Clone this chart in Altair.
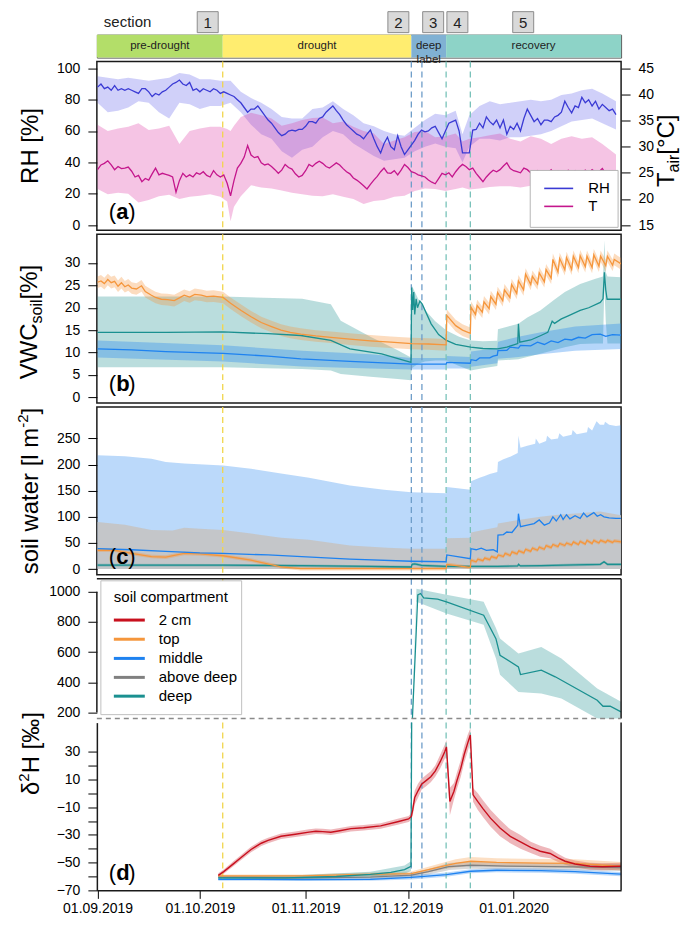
import altair as alt
import pandas as pd

FONT = "Liberation Sans"
BASE = pd.Timestamp("2019-09-01")
W = 525
H_BAR, H_A, H_B, H_C, H_DU, H_DL = 23, 169, 169, 168, 140, 168

# ---------------- data (days since 2019-09-01) ----------------
SECTION_NAMES = ["pre-drought", "drought", "deep\nlabel", "recovery"]
SECTION_START = [-0.2, 36.7, 92.0, 102.2]
SECTION_END = [36.7, 92.0, 102.2, 153.5]
SECTION_COLORS = ["#B3DE69", "#FFED6F", "#80B1D3", "#8DD3C7"]
BOX_LABELS = ["1", "2", "3", "4", "5"]
BOX_DAYS = [32.3, 88.2, 98.4, 105.5, 124.8]
EVENT_DAYS = [36.7, 92.0, 95.1, 102.2, 109.3]
EVENT_COLORS = ["#F2D64B", "#6E9DC9", "#6E9DC9", "#79C2BA", "#79C2BA"]
MONTH_TICKS = [0, 30, 61, 91, 122]

RH_DAYS = list(range(153))
RH = [88, 90, 87, 88, 86, 89, 86, 87, 86, 87,
      86, 85, 84, 87, 87, 85, 82, 84, 83, 85,
      86, 88, 90, 91, 92.5, 90, 89, 91, 86, 87,
      85, 87, 86, 85, 87, 86, 84, 85, 84, 83,
      82, 80, 78, 75, 72, 74, 74, 76, 73, 70,
      67, 65, 62, 59, 57, 58, 60, 60.5, 60, 61,
      61, 63, 66, 66, 65, 68, 69, 72, 74, 76,
      73, 70.5, 67, 64, 62, 60, 58, 57, 55, 58,
      60.6, 55, 50, 46, 52, 56, 50, 48, 57, 50,
      45, 48, 51, 54, 58, 60.6, 59.5, 60, 62, 63,
      59, 55, 60, 65, 66, 67, 60, 46, 46, 46,
      60.6, 61, 65, 62, 69, 66, 64, 67, 62, 67,
      58, 63, 61, 65, 60, 68, 74, 70, 66, 68,
      64, 67, 67, 66, 69, 70, 72, 79, 75, 71.6,
      76, 75, 81.5, 78, 80, 76, 79, 74, 77, 75,
      73, 74, 70.5]
T_AIR = [25.6, 26.5, 26.8, 27.3, 26.5, 25.6, 26.2, 25.8, 25.9, 26.1,
         25.3, 24.2, 24.5, 23.3, 23.9, 23.6, 24.8, 25.9, 24.6, 24.9,
         24.7, 24.5, 24.2, 21.3, 23.5, 24.9, 24.2, 24.6, 24.2, 25.0,
         24.7, 25.2, 24.5, 24.2, 25.4, 24.6, 24.2, 24.6, 23.0, 20.6,
         23.5, 25.9, 26.8, 28.0, 30.2, 28.4, 27.9, 28.1, 26.9, 26.5,
         26.7, 26.2, 25.6, 24.9, 25.5, 26.6, 26.0, 25.7, 24.8, 24.2,
         24.5, 25.4, 26.6, 26.2, 26.8, 27.2, 26.8, 26.2, 25.9, 26.4,
         26.9, 26.5, 25.8, 25.2, 24.8, 24.0, 23.6, 23.1, 22.5, 21.9,
         22.8, 23.6, 24.3, 25.2, 25.9, 25.0, 24.9, 25.4, 24.6, 25.5,
         26.6, 26.0, 25.2, 25.0, 24.6, 24.4, 24.2, 23.6, 23.2, 22.9,
         23.9, 24.9, 24.6, 25.0, 24.2, 25.2, 26.0, 26.6, 26.2, 25.6,
         25.9, 24.9, 24.1, 23.3, 24.2, 24.9, 25.5, 25.2, 25.6, 26.3,
         26.9, 25.8, 25.4, 25.2, 25.0, 25.9, 25.6, 25.0, 24.9, 25.4,
         24.7, 25.2, 24.9, 25.6, 24.8, 25.3, 24.6, 24.6, 25.5, 24.8,
         25.4, 24.6, 25.0, 25.5, 24.9, 25.6, 25.1, 25.2, 25.8, 24.8,
         25.3, 24.9, 25.2]
# (day, low, high)
RH_BAND = [(0, 78, 95), (3, 72, 94), (6, 73, 93), (9, 75, 94), (12, 79, 93), (15, 78, 92),
           (18, 72, 93), (21, 68, 94), (24, 78, 97), (27, 77, 96), (30, 74, 93), (33, 76, 93),
           (36, 76, 92), (39, 78, 92), (42, 72, 85), (45, 64, 81), (48, 58, 78), (51, 55, 74),
           (54, 47, 69), (57, 43, 68), (60, 48, 68), (63, 50, 74), (66, 56, 75), (69, 60, 79),
           (72, 58, 74), (75, 52, 70), (78, 48, 65), (81, 44, 63), (84, 41, 60), (87, 42, 58),
           (90, 43, 57), (93, 47, 62), (96, 50, 67), (99, 52, 71), (102, 50, 70), (105, 49, 73),
           (107, 40, 58), (109, 50, 70), (112, 55, 76), (115, 55, 79), (118, 54, 77), (121, 56, 78),
           (124, 56, 79), (127, 57, 80), (130, 58, 79), (133, 60, 80), (136, 63, 83), (139, 66, 84),
           (142, 67, 86), (145, 68, 87), (148, 65, 84), (152, 61, 79)]
T_BAND = [(0, 21.9, 34.2), (3, 20.9, 33.0), (6, 21.2, 33.5), (9, 21.0, 33.8), (12, 19.3, 34.5),
          (15, 19.8, 33.2), (18, 20.5, 33.5), (21, 20.8, 34.0), (24, 20.0, 30.5), (27, 20.4, 33.0),
          (30, 20.6, 33.5), (33, 20.9, 33.8), (36, 20.4, 33.8), (38, 19.5, 33.4), (39, 15.7, 33.0),
          (40, 18.5, 34.0), (42, 20.5, 35.7), (45, 22.6, 36.5), (48, 22.2, 36.0), (51, 22.0, 35.4),
          (54, 21.6, 34.0), (57, 21.2, 34.5), (60, 20.9, 35.1), (63, 20.6, 35.5), (66, 20.5, 35.6),
          (69, 20.9, 34.5), (72, 20.4, 34.8), (75, 20.0, 33.8), (78, 19.0, 33.0), (81, 19.6, 32.5),
          (84, 19.8, 30.5), (87, 20.4, 31.2), (90, 20.6, 31.8), (93, 21.5, 32.8), (96, 22.0, 33.0),
          (99, 21.9, 31.8), (102, 21.5, 32.0), (105, 21.9, 32.5), (107, 22.2, 31.0), (109, 21.8, 31.5),
          (112, 22.0, 31.8), (115, 22.3, 32.2), (118, 22.4, 32.5), (121, 22.4, 31.5), (124, 22.2, 31.0),
          (127, 22.5, 32.0), (130, 22.4, 31.5), (133, 22.3, 30.5), (136, 22.4, 31.5), (139, 22.5, 32.0),
          (142, 22.5, 31.5), (145, 22.6, 31.8), (148, 22.6, 30.5), (152, 22.5, 28.5)]

# VWC soil [%] (day, value)
VWC_TOP = [(0, 25.7), (1, 26.0), (2, 25.4), (3, 26.3), (4, 25.6), (5, 25.9), (6, 24.8), (7, 25.6),
           (8, 24.7), (9, 25.1), (10, 24.4), (11.4, 24.2), (12.9, 24.9), (14, 23.6), (15.8, 22.8),
           (17, 22.3), (18.7, 21.9), (20.5, 21.8), (22.5, 21.6), (24, 22.2), (25.4, 22.8), (27, 22.4),
           (28.5, 23.0), (30.4, 22.8), (32, 22.5), (34, 22.6), (36.8, 22.3), (39, 21.0), (42.1, 19.4),
           (45, 18.0), (48, 16.7), (51, 15.8), (53.8, 15.0), (56.5, 14.5), (59.6, 14.1), (64, 13.7),
           (68.4, 13.4), (74, 13.0), (80, 12.6), (86, 12.3), (92.1, 12.0), (97, 11.9), (102.2, 11.7),
           (102.4, 18.3), (105, 16.0), (107, 15.0), (109.3, 14.3), (109.5, 20.1), (110.8, 18.5),
           (111.3, 20.5), (112.8, 19.0), (113.3, 21.3), (114.8, 19.8), (115.3, 22.5), (116.8, 20.8),
           (117.3, 23.4), (118.8, 21.6), (119.3, 24.0), (120.9, 22.3), (121.4, 25.2), (122.9, 23.2),
           (123.4, 26.0), (124.9, 24.0), (125.5, 27.5), (127.0, 25.2), (127.5, 27.0), (129.0, 25.3),
           (129.5, 27.8), (131.0, 25.8), (131.5, 28.5), (133.0, 26.6), (133.5, 30.8), (135, 28.0),
           (135.5, 31.0), (137, 28.5), (137.5, 31.2), (139, 28.6), (139.5, 31.5), (141, 29.0),
           (141.5, 31.6), (143, 29.2), (143.5, 31.5), (145, 29.0), (145.5, 31.8), (147, 29.3),
           (147.5, 31.5), (149, 29.4), (149.5, 31.5), (151, 29.5), (151.5, 30.8), (153.5, 29.8)]
VWC_TOP_SPREAD = 1.3
VWC_MID = [(0, 10.8), (10, 10.6), (20, 10.2), (36.8, 9.8), (50, 9.2), (59.6, 8.6), (74, 8.0), (92, 7.4),
           (102.2, 7.4), (102.4, 7.8), (109.3, 7.6), (109.5, 8.4), (111, 8.2), (112, 8.8), (115, 8.8),
           (116, 9.2), (117.2, 9.4), (117.4, 10.4), (120, 10.5), (121, 11.2), (123.4, 11.0), (124, 11.6),
           (127, 11.5), (129, 12.3), (131, 11.8), (133, 12.6), (135, 12.2), (137, 13.0), (139, 12.8),
           (141, 13.4), (143, 13.2), (145, 14.0), (147.4, 14.1), (149, 13.6), (151, 14.0), (153.5, 13.9)]
VWC_MID_BAND = [(0, 8.9, 12.7), (36.8, 8.0, 11.6), (60, 6.9, 10.4), (80, 6.4, 9.6), (92, 6.2, 8.8),
                (102.2, 6.2, 8.8), (102.4, 6.4, 9.2), (109.3, 6.4, 9.0), (109.5, 6.8, 10.2),
                (117.2, 7.6, 11.0), (117.4, 8.6, 12.4), (123.4, 9.0, 13.5), (130, 9.6, 14.5),
                (140, 10.4, 15.8), (153.5, 10.8, 16.5)]
VWC_DEEP = [(0, 14.5), (20, 14.5), (36.8, 14.6), (50, 14.2), (59.6, 13.8), (68.4, 12.7), (74, 10.8),
            (83.3, 9.7), (91.9, 7.8), (92.1, 24.5), (92.4, 19.5), (92.7, 23.5), (93.0, 18.5), (93.4, 22.0),
            (93.8, 20.0), (94.5, 21.5), (95.2, 20.8), (97.8, 16.4), (100, 14.0), (102.3, 12.7),
            (105, 11.8), (109.4, 11.2), (113, 10.9), (117.3, 10.8), (120, 11.2), (123.2, 12.0),
            (123.4, 16.4), (123.8, 12.3), (127, 12.8), (130, 13.8), (132, 14.5), (133.3, 17.0),
            (134, 16.5), (136, 17.5), (138, 18.2), (141.5, 19.4), (144, 20.0), (147.4, 21.2),
            (148.2, 22.0), (148.6, 27.9), (149.0, 24.0), (149.4, 21.9), (153.5, 21.9)]
VWC_DEEP_BAND = [(0, 6.7, 22.5), (36.8, 6.7, 22.5), (60, 6.3, 22.0), (68.4, 6.0, 20.8), (71.3, 5.2, 17.1),
                 (80, 4.6, 13.5), (88, 4.1, 10.5), (91.9, 3.8, 8.9), (92.1, 6.5, 25.0), (94, 7.5, 22.0),
                 (96, 8.0, 19.5), (99, 8.2, 17.0), (102.3, 8.2, 14.9), (106, 7.0, 13.5), (109.4, 6.0, 12.7),
                 (113, 6.5, 12.5), (117.2, 7.0, 12.6), (117.4, 8.2, 15.2), (123.4, 8.5, 16.4),
                 (126, 9.0, 17.8), (129.8, 9.7, 19.4), (133.7, 10.5, 21.7), (137, 11.2, 23.5),
                 (141.5, 11.9, 25.3), (146, 12.0, 26.5), (148.2, 12.0, 27.0), (148.6, 25.0, 35.0),
                 (149.0, 17.0, 28.0), (149.5, 12.0, 27.0), (153.5, 12.0, 26.8)]

# soil water [l m-2]
SW_MID_UPPER = [(0, 218), (8, 216), (15.8, 211), (20, 205), (25.4, 202), (36.8, 198), (45, 192),
                (53.8, 183), (62, 175), (74, 160), (84, 152), (92, 147), (102.2, 145), (102.4, 157),
                (109.3, 152), (109.5, 168), (112, 175), (113.5, 178), (115, 182), (117.2, 186),
                (117.4, 205), (119, 210), (121, 215), (123.2, 222), (123.4, 255), (124, 232),
                (126, 236), (128.3, 240), (128.5, 250), (129.5, 240), (131.5, 245), (131.8, 255),
                (133, 248), (135, 250), (135.4, 260), (136.5, 253), (139, 257), (139.3, 266),
                (140.5, 258), (143.5, 262), (143.8, 272), (145, 265), (146.3, 283), (147.3, 276),
                (148.5, 276), (148.8, 282), (150, 276), (152, 274), (153.5, 275)]
SW_ABOVE_UPPER = [(0, 90), (8, 85), (15.8, 75), (22, 74), (25.4, 79), (30, 77), (36.8, 75), (45, 68),
                  (53.8, 60), (62, 56), (74, 45), (85, 41), (92, 39), (102.2, 39), (102.4, 59),
                  (109.3, 60), (109.5, 70), (113, 75), (117.2, 80), (117.4, 87), (123.4, 94),
                  (129.8, 100), (135, 104), (141, 107), (147.4, 110), (153.5, 103)]
SW_MID = [(0, 39), (10, 37), (20, 34), (30, 31), (36.8, 30), (50, 27), (74, 19), (92, 15), (102.2, 14),
          (102.4, 27), (109.3, 20), (109.5, 39), (111, 37), (112.5, 40), (114, 36), (116, 37),
          (117.2, 33), (117.4, 65), (119, 66), (120, 71), (121.5, 70), (123.2, 84), (123.4, 106),
          (124, 81), (126, 84), (128, 87), (129.5, 94), (131, 84), (132.5, 88), (133.5, 100),
          (134.5, 92), (135.8, 104), (136.5, 95), (137.5, 104), (138.5, 96), (140, 102), (141.5, 97),
          (142.5, 107), (143.5, 100), (145.5, 108), (146.5, 101), (147.5, 104), (148.5, 100),
          (150, 98), (152, 97), (153.5, 97)]
SW_TOP = [(0, 36), (5, 36), (10, 30), (15.8, 24), (20, 23), (25.4, 30), (30, 29), (36.8, 25.5),
          (45, 17), (53.8, 4.4), (59.6, 1), (102.2, 1), (102.4, 9), (109.3, 3), (109.5, 17), (111, 14),
          (111.5, 19), (113, 16), (113.5, 21), (115, 18), (115.5, 24), (117, 21), (117.5, 27), (119, 24),
          (119.5, 30), (121, 26), (121.5, 33), (123, 29), (123.5, 35), (125, 31), (125.5, 38), (127, 34),
          (127.5, 40), (129, 36), (129.5, 42), (131, 38), (131.5, 45), (133, 41), (133.5, 47), (135, 43),
          (135.5, 49), (137, 45), (137.5, 50), (139, 46), (139.5, 52), (141, 47), (141.5, 53), (143, 48),
          (143.5, 55), (145, 49), (145.5, 55), (147, 50), (147.5, 55), (149, 51), (149.5, 55), (151, 51),
          (151.5, 54), (153.5, 52)]
SW_TOP_SPREAD = 3.5
SW_DEEP = [(0, 7.6), (36.8, 7.4), (60, 6.5), (80, 5), (92, 4), (92.2, 9), (93, 10), (95, 7), (102.2, 5),
           (110, 5), (117.2, 5), (123.2, 6), (123.4, 9), (124, 6), (130, 6.5), (140, 8), (147.4, 9),
           (148.5, 14), (149.5, 9), (153.5, 9)]
SW_DEEP_SPREAD = 2.5

# delta 2H [permil]  (day, value, spread)
D2H_2CM = [(35.4, -59.2, 1.5), (37, -56.5, 1.5), (40, -50.5, 1.8), (42, -46.5, 1.8), (45, -40.5, 2),
           (48, -36, 2), (50, -34, 2), (53.8, -31, 2), (58, -29.5, 2), (62, -28, 2), (64, -27.4, 2),
           (66, -27.6, 2), (68.4, -28.1, 2), (71, -27, 2), (74.3, -25.5, 2), (78, -24.8, 2),
           (83, -23.5, 2), (88, -20.5, 2.2), (91.2, -18.5, 2.2), (92.0, -16.7, 2.5), (92.4, -12, 4),
           (93, -3, 5), (94, 2, 5), (95, 6.5, 4), (96.5, 9.5, 4), (97.7, 12, 4), (99, 16, 4),
           (100.5, 23, 5), (101.8, 30, 5), (102.3, 33.5, 5), (103.3, -5.9, 10), (104.5, 1.5, 6),
           (105.3, 8.5, 6), (106.5, 18, 6), (107.5, 28, 6), (108.5, 36, 6), (109.3, 42, 5),
           (110.1, -1.1, 5), (111.5, -6, 6), (113, -11, 6), (115.2, -17.9, 6), (118, -25, 6),
           (121, -31, 5), (124, -35, 5), (127, -39, 4), (129.8, -41.8, 4), (132.7, -43.4, 3.5),
           (135, -46.5, 3), (137.1, -49, 2.5), (140, -51, 2.5), (144.4, -52.6, 2.5), (148, -53, 2.5),
           (153.5, -52.6, 2.5)]
D2H_TOP = [(35.4, -59.5, 1), (60, -59.5, 1), (74.3, -58.6, 1.2), (92, -57.9, 1.5), (97, -55, 2),
           (102.3, -51.9, 2.5), (105, -50.5, 3), (109.4, -49, 3), (117, -49.8, 3), (130, -50.4, 3),
           (140, -50.6, 3), (153.5, -52.6, 3)]
D2H_ABOVE = [(35.4, -60.5, 1), (60, -61, 1), (80, -60.5, 1.5), (92, -59, 1.5), (97, -56.5, 2),
             (102.3, -53.3, 2.5), (103, -52.8, 2.5), (109.4, -51.9, 2.5), (120, -52.5, 2.5),
             (140, -53, 2.5), (153.5, -53.5, 2.5)]
D2H_MID = [(35.4, -62, 1), (60, -62.3, 1), (80, -62, 1), (92, -60.6, 1.5), (102.3, -58.6, 1.5),
           (109.4, -56.2, 1.5), (117, -55.5, 1.5), (130, -55.8, 1.5), (140, -56.5, 1.5),
           (153.5, -58.3, 1.5)]
D2H_DEEP = [(35.4, -61), (55, -61), (70, -60), (80, -58.5), (86, -57), (90, -55), (91.9, -52.6),
            (93.9, 980), (94.7, 989), (95.6, 960), (99.7, 951), (102.3, 934), (113.2, 845), (116.8, 690),
            (118, 580), (123.4, 503), (124, 452), (130.1, 481), (134.2, 437), (146.5, 282), (148.2, 242),
            (150.3, 242), (153.5, 205)]
D2H_DEEP_BAND = [(35.4, -62, -60), (60, -62, -59), (80, -60.5, -56.5), (90, -58, -52), (91.9, -56, -49),
                 (93.5, 934, 1020), (102.3, 856, 980), (113.2, 781, 934), (116.8, 560, 760),
                 (118, 450, 690), (123.4, 337, 591), (130.1, 326, 635), (136, 293, 558),
                 (146.5, 160, 359), (153.5, 120, 271)]
DU_AXIS_SPAN = [200, 1000]

LEGEND_NAMES = ["2 cm", "top", "middle", "above deep", "deep"]
C_2CM, C_TOP, C_MID, C_ABOVE, C_DEEP = "#C8101E", "#F5963C", "#1E82F0", "#808080", "#1A9090"
LEGEND_COLORS = [C_2CM, C_TOP, C_MID, C_ABOVE, C_DEEP]

# ---------------- helpers ----------------
def iso(d):
    ts = BASE + pd.Timedelta(seconds=int(round(d * 86400)))
    return ts.strftime("%Y-%m-%dT%H:%M:%S")


def dt(d):
    ts = BASE + pd.Timedelta(seconds=int(round(d * 86400)))
    return alt.DateTime(year=ts.year, month=ts.month, date=ts.day, hours=ts.hour, minutes=ts.minute)


XS = alt.Scale(domain=[dt(-0.2), dt(153.5)], nice=False)


def X(axis=None):
    return alt.X("date:T", scale=XS, axis=axis, title=None)


def line_df(pairs):
    return pd.DataFrame({"date": [iso(p[0]) for p in pairs], "v": [p[1] for p in pairs]})


def band_df(tr):
    return pd.DataFrame({"date": [iso(p[0]) for p in tr], "lo": [p[1] for p in tr], "hi": [p[2] for p in tr]})


def spread_df(tr):
    return pd.DataFrame({"date": [iso(p[0]) for p in tr], "v": [p[1] for p in tr],
                         "lo": [p[1] - p[2] for p in tr], "hi": [p[1] + p[2] for p in tr]})


def const_spread_df(pairs, s):
    return spread_df([(p[0], p[1], s) for p in pairs])


def line(df, color, scale, axis=None, width=1.3, xaxis=None):
    return alt.Chart(df).mark_line(color=color, strokeWidth=width, clip=True).encode(
        x=X(xaxis), y=alt.Y("v:Q", scale=scale, axis=axis))


def band(df, color, opacity, scale, axis=None, xaxis=None):
    return alt.Chart(df).mark_area(color=color, opacity=opacity, clip=True).encode(
        x=X(xaxis), y=alt.Y("lo:Q", scale=scale, axis=axis, stack=None), y2=alt.Y2("hi:Q"))


def from_zero(df, color, opacity, scale, axis=None):
    return alt.Chart(df).mark_area(color=color, opacity=opacity, clip=True).encode(
        x=X(), y=alt.Y("v:Q", scale=scale, axis=axis, stack=None), y2=alt.datum(0))


ONE = pd.DataFrame({"k": [0]})


def txt(text, x, y, size=14, align="left", baseline="middle", weight="normal", angle=0, color="black"):
    return alt.Chart(ONE).mark_text(text=text, align=align, baseline=baseline, fontSize=size,
                                    fontWeight=weight, angle=angle, font=FONT, color=color).encode(
        x=alt.value(x), y=alt.value(y))


def hrule(x1, x2, y, color="black", width=1.5, dash=None):
    kw = dict(color=color, strokeWidth=width)
    if dash:
        kw["strokeDash"] = dash
    return alt.Chart(ONE).mark_rule(**kw).encode(x=alt.value(x1), x2=alt.value(x2), y=alt.value(y))


def vrule_px(x, y1, y2, color="black", width=1.5):
    return alt.Chart(ONE).mark_rule(color=color, strokeWidth=width).encode(
        x=alt.value(x), y=alt.value(y1), y2=alt.value(y2))


CW = {" ": 278, "[": 278, "]": 278, "%": 889, "R": 722, "H": 722, "V": 667, "W": 944, "C": 722,
      "T": 611, "s": 500, "o": 556, "i": 222, "l": 222, "a": 556, "r": 333, "w": 722, "t": 278,
      "e": 556, "m": 833, "\u00b0": 400, "\u03b4": 556, "\u2030": 1000, "-": 333, "2": 556}


def tw(s, size):
    return sum(CW.get(ch, 556) for ch in s) * size / 1000.0


def rtitle(parts, cx, cy, main=24):
    total = sum(tw(t, sz) for t, sz, sh in parts)
    base_x = cx + 0.35 * main
    y = cy + total / 2.0
    out = []
    for t, sz, sh in parts:
        out.append(txt(t, base_x + sh, y, sz, align="left", baseline="alphabetic", angle=270))
        y -= tw(t, sz)
    return out


def plabel(letter, y):
    return [txt("(", 12, y, 22), txt(letter, 19.3, y, 22, weight="bold"), txt(")", 31.5, y, 22)]


ev_df = pd.DataFrame({"date": [iso(d) for d in EVENT_DAYS], "c": EVENT_COLORS})


def vrules(xaxis=None):
    return alt.Chart(ev_df).mark_rule(strokeDash=[6, 4], strokeWidth=1.3).encode(
        x=X(xaxis), color=alt.Color("c:N", scale=None))


# ---------------- section bar ----------------
sec_df = pd.DataFrame({"start": [iso(d) for d in SECTION_START], "end": [iso(d) for d in SECTION_END],
                       "mid": [iso((a + b) / 2) for a, b in zip(SECTION_START, SECTION_END)],
                       "name": SECTION_NAMES, "color": SECTION_COLORS})
box_df = pd.DataFrame({"date": [iso(d) for d in BOX_DAYS], "label": BOX_LABELS})

sec = alt.layer(
    alt.Chart(sec_df).mark_rect().encode(
        x=alt.X("start:T", scale=XS, axis=None), x2="end:T",
        y=alt.value(0), y2=alt.value(H_BAR), color=alt.Color("color:N", scale=None)),
    alt.Chart(sec_df).mark_text(fontSize=11.5, lineBreak="\n", lineHeight=13.5, color="#222222",
                                font=FONT, baseline="middle").encode(
        x=alt.X("mid:T", scale=XS, axis=None), y=alt.value(H_BAR / 2), text="name:N"),
    alt.Chart(box_df).mark_square(size=441, filled=True, fill="#D9D9D9", stroke="#8C8C8C",
                                  strokeWidth=1, opacity=1).encode(x=X(), y=alt.value(-12.5)),
    alt.Chart(box_df).mark_text(fontSize=15, font=FONT, color="#222222").encode(
        x=X(), y=alt.value(-12), text="label:N"),
    txt("section", 7, -13, 15, color="#222222"),
    alt.Chart(ONE).mark_rule(color="white", strokeWidth=1).encode(
        x=alt.value(-88), x2=alt.value(-87), y=alt.value(0)),
).properties(width=W, height=H_BAR, view=alt.ViewBackground(stroke="#555555", strokeWidth=1))

# ---------------- panel a ----------------
RHS = alt.Scale(domain=[-3.4, 104.3], nice=False, zero=False)
TS = alt.Scale(domain=[13.98, 46.29], nice=False, zero=False)
rh_axis = alt.Axis(values=[0, 20, 40, 60, 80, 100], title=None, labelOverlap=False)
t_axis = alt.Axis(values=[15, 20, 25, 30, 35, 40, 45], orient="right", title=None, labelOverlap=False)

rh_df = line_df(list(zip(RH_DAYS, RH)))
t_df = line_df(list(zip(RH_DAYS, T_AIR)))

pa = alt.layer(
    band(band_df(RH_BAND), "#4A4AE6", 0.26, RHS),
    band(band_df(T_BAND), "#DA2A9E", 0.28, TS),
    vrules(),
    line(rh_df, "#3A3AD4", RHS, rh_axis),
    line(t_df, "#C4168C", TS, t_axis),
    alt.Chart(ONE).mark_rect(fill="white", stroke="#B5B5B5", strokeWidth=1).encode(
        x=alt.value(434), x2=alt.value(522), y=alt.value(109), y2=alt.value(166)),
    hrule(448, 477, 127, "#3A3AD4", 1.6),
    hrule(448, 477, 145, "#C4168C", 1.6),
    txt("RH", 492, 127, 15), txt("T", 492, 145, 15),
    *plabel("a", 151),
    *rtitle([("RH [%]", 24, 0)], -67, 84.5),
    *rtitle([("T", 24, 0), ("air", 16, 5), (" [\u00b0C]", 24, 0)], W + 45, 86),
).resolve_scale(y="independent").properties(width=W, height=H_A)

# ---------------- panel b ----------------
BS = alt.Scale(domain=[-1.3, 36.4], nice=False, zero=False)
b_axis = alt.Axis(values=[0, 5, 10, 15, 20, 25, 30], title=None, labelOverlap=False)
pb = alt.layer(
    band(band_df(VWC_DEEP_BAND), C_DEEP, 0.3, BS, b_axis),
    band(band_df(VWC_MID_BAND), C_MID, 0.33, BS, b_axis),
    band(const_spread_df(VWC_TOP, VWC_TOP_SPREAD), C_TOP, 0.33, BS, b_axis),
    vrules(),
    line(line_df(VWC_DEEP), C_DEEP, BS, b_axis),
    line(line_df(VWC_MID), C_MID, BS, b_axis),
    line(line_df(VWC_TOP), C_TOP, BS, b_axis),
    *plabel("b", 150),
    *rtitle([("VWC", 24, 0), ("soil", 16, 5), (" [%]", 24, 0)], -68, 84.5),
).properties(width=W, height=H_B)

# ---------------- panel c ----------------
CS = alt.Scale(domain=[-11, 310], nice=False, zero=False)
c_axis = alt.Axis(values=[0, 50, 100, 150, 200, 250], title=None, labelOverlap=False)
pc = alt.layer(
    from_zero(line_df(SW_MID_UPPER), C_MID, 0.3, CS, c_axis),
    from_zero(line_df(SW_ABOVE_UPPER), "#C4C4C4", 0.92, CS, c_axis),
    band(const_spread_df(SW_TOP, SW_TOP_SPREAD), C_TOP, 0.35, CS, c_axis),
    band(const_spread_df(SW_DEEP, SW_DEEP_SPREAD), C_DEEP, 0.35, CS, c_axis),
    vrules(),
    line(line_df(SW_DEEP), C_DEEP, CS, c_axis),
    line(line_df(SW_TOP), C_TOP, CS, c_axis),
    line(line_df(SW_MID), C_MID, CS, c_axis),
    *plabel("c", 150),
    *rtitle([("soil water [l m", 24, 0), ("-2", 15, -10), ("]", 24, 0)], -67, 84),
).properties(width=W, height=H_C)

# ---------------- panel d (upper, broken axis) ----------------
DUS = alt.Scale(domain=[160, 1086], nice=False, zero=False)
du_axis = alt.Axis(values=[200, 400, 600, 800, 1000], title=None, format="d", labelOverlap=False)
leg_y = [41.3, 60.5, 79.7, 98.7, 117.5]
legend_marks = [alt.Chart(ONE).mark_rect(fill="white", stroke="#C0C0C0", strokeWidth=1).encode(
    x=alt.value(4), x2=alt.value(145), y=alt.value(2), y2=alt.value(136)),
    txt("soil compartment", 17, 18, 15)]
for name, col, yy in zip(LEGEND_NAMES, LEGEND_COLORS, leg_y):
    legend_marks.append(hrule(17, 48, yy, col, 3))
    legend_marks.append(txt(name, 62, yy, 15))

pdu = alt.layer(
    band(band_df(D2H_DEEP_BAND), C_DEEP, 0.3, DUS, du_axis),
    vrules(),
    line(line_df(D2H_DEEP), C_DEEP, DUS, du_axis),
    hrule(0, W, 0, "#1a1a1a", 1.5),
    vrule_px(W, 0, H_DU, "#1a1a1a", 1.5),
    alt.Chart(ONE).mark_rule(color="#1a1a1a", strokeWidth=1.5).encode(
        x=alt.value(0),
        y=alt.YDatum(DU_AXIS_SPAN[0], scale=DUS, axis=du_axis),
        y2=alt.Y2Datum(DU_AXIS_SPAN[1])),
    hrule(0, W, H_DU, "#8A8A8A", 1.5, [5, 4]),
    *legend_marks,
).properties(width=W, height=H_DU, view=alt.ViewBackground(stroke="transparent"))

# ---------------- panel d (lower) ----------------
DLS = alt.Scale(domain=[-70, 51], nice=False, zero=False)
dl_axis = alt.Axis(values=list(range(-70, 40, 10)), title=None, domain=True, domainColor="#1a1a1a",
                   domainWidth=1.5, labelOverlap=False,
                   labelExpr="datum.value % 20 == 0 ? '' : datum.label")
x_axis = alt.Axis(values=[dt(d) for d in MONTH_TICKS], format="%d.%m.%Y", domain=True,
                  domainColor="#1a1a1a", domainWidth=1.5, tickSize=8, labelPadding=3, title=None,
                  labelFontSize=14, labelOverlap=False, labelFlush=False)
pdl = alt.layer(
    band(spread_df(D2H_2CM), C_2CM, 0.3, DLS, dl_axis, x_axis),
    band(spread_df(D2H_TOP), C_TOP, 0.3, DLS, dl_axis, x_axis),
    band(spread_df(D2H_ABOVE), C_ABOVE, 0.3, DLS, dl_axis, x_axis),
    band(spread_df(D2H_MID), C_MID, 0.3, DLS, dl_axis, x_axis),
    band(band_df(D2H_DEEP_BAND), C_DEEP, 0.3, DLS, dl_axis, x_axis),
    vrules(x_axis),
    line(line_df([(p[0], p[1]) for p in D2H_MID]), C_MID, DLS, dl_axis, xaxis=x_axis),
    line(line_df([(p[0], p[1]) for p in D2H_ABOVE]), C_ABOVE, DLS, dl_axis, xaxis=x_axis),
    line(line_df([(p[0], p[1]) for p in D2H_TOP]), C_TOP, DLS, dl_axis, xaxis=x_axis),
    line(line_df(D2H_DEEP), C_DEEP, DLS, dl_axis, xaxis=x_axis),
    line(line_df([(p[0], p[1]) for p in D2H_2CM]), C_2CM, DLS, dl_axis, width=1.4, xaxis=x_axis),
    vrule_px(W, 0, H_DL, "#1a1a1a", 1.5),
    *plabel("d", 150.7),
    *rtitle([("\u03b4", 24, 0), ("2", 15, -10), ("H [\u2030]", 24, 0)], -66, 31),
).properties(width=W, height=H_DL, view=alt.ViewBackground(stroke="transparent"))

chart = alt.vconcat(sec, pa, pb, pc, pdu, pdl, spacing=4, bounds="flush").resolve_scale(
    y="independent").properties(padding=0).configure(font=FONT).configure_view(
    stroke="#1a1a1a", strokeWidth=1.5).configure_axis(
    labelFont=FONT, labelFontSize=14, labelColor="black", tickColor="black", tickSize=9,
    labelPadding=8, domain=False, grid=False, tickWidth=1)

chart.save("out.html", embed_options={"renderer": "svg", "actions": False})
